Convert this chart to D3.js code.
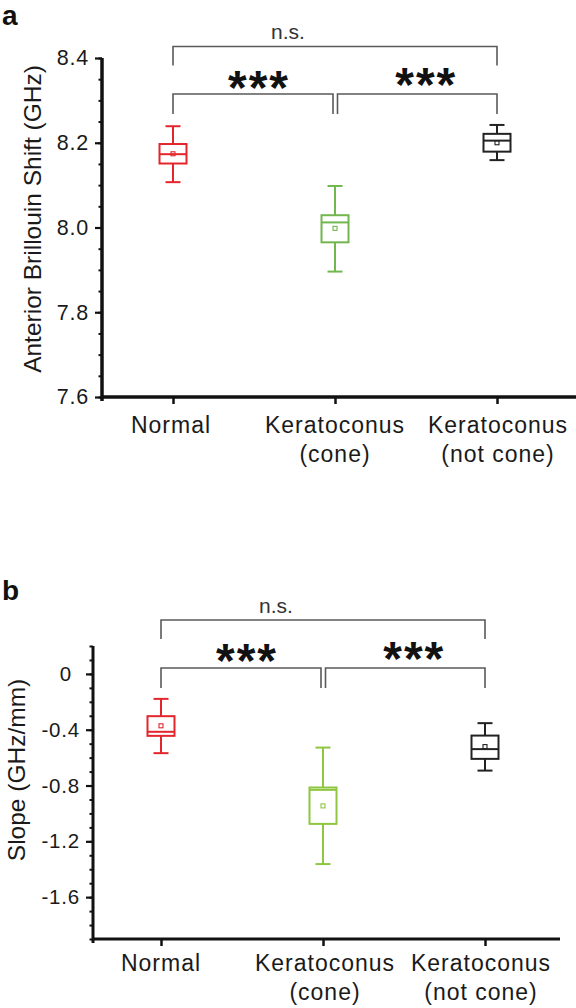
<!DOCTYPE html>
<html>
<head>
<meta charset="utf-8">
<script src="https://cdn.jsdelivr.net/npm/d3@7"></script>
<style>
  html, body { margin: 0; padding: 0; background: #fff; }
  svg { display: block; font-family: "Liberation Sans", Arial, Helvetica, sans-serif; }
</style>
</head>
<body>
<svg id="chart" width="576" height="1008"></svg>
<script>
// ---------- data ----------
const categories = ["Normal", "Keratoconus (cone)", "Keratoconus (not cone)"];
const categoryLines = [["Normal"], ["Keratoconus", "(cone)"], ["Keratoconus", "(not cone)"]];
const colorsA = ["#e3262d", "#72b64f", "#222222"];
const colorsB = ["#e3262d", "#8ec640", "#222222"];

// Panel a: anterior Brillouin shift (GHz)
const shiftWhiskerLow  = [8.107, 7.896, 8.159];
const shiftQ1          = [8.151, 7.965, 8.179];
const shiftMedian      = [8.173, 8.012, 8.205];
const shiftQ3          = [8.197, 8.029, 8.221];
const shiftWhiskerHigh = [8.239, 8.098, 8.242];
const shiftMean        = [8.174, 7.998, 8.200];
const shiftTicks = [7.6, 7.8, 8.0, 8.2, 8.4];
const shiftTickLabels = ["7.6", "7.8", "8.0", "8.2", "8.4"];

// Panel b: slope (GHz/mm)
const slopeWhiskerLow  = [-0.568, -1.363, -0.693];
const slopeQ1          = [-0.444, -1.075, -0.609];
const slopeMedian      = [-0.415, -0.831, -0.539];
const slopeQ3          = [-0.303, -0.814, -0.442];
const slopeWhiskerHigh = [-0.179, -0.528, -0.353];
const slopeMean        = [-0.372, -0.946, -0.521];
const slopeTicks = [-1.6, -1.2, -0.8, -0.4, 0];
const slopeTickLabels = ["-1.6", "-1.2", "-0.8", "-0.4", "0"];

// significance comparisons [from, to, label]
const comparisons = [[0, 2, "n.s."], [0, 1, "***"], [1, 2, "***"]];

// ---------- drawing ----------
const svg = d3.select("#chart");

function panel(cfg) {
  const g = svg.append("g");
  const x = d3.scalePoint().domain(categories).range(cfg.xRange);
  const y = d3.scaleLinear().domain(cfg.yDomain).range(cfg.yRange);

  // minor ticks
  const minorVals = d3.range(Math.round((cfg.yDomain[1] - cfg.yDomain[0]) / cfg.minorStep) + 1)
    .map(i => +(cfg.yDomain[0] + i * cfg.minorStep).toFixed(3));
  g.append("g").attr("transform", `translate(${cfg.axisX},0)`)
    .call(d3.axisLeft(y).tickValues(minorVals).tickSize(3.5).tickFormat(""))
    .call(a => a.select(".domain").remove())
    .call(a => a.selectAll("line").attr("stroke", "#111").attr("stroke-width", 2));

  // major ticks + labels
  const yAx = g.append("g").attr("transform", `translate(${cfg.axisX},0)`)
    .call(d3.axisLeft(y).tickValues(cfg.ticks).tickSize(7).tickPadding(6)
      .tickFormat((d, i) => cfg.tickLabels[i]))
    .call(a => a.select(".domain").remove());
  yAx.selectAll("line").attr("stroke", "#111").attr("stroke-width", 2.2);
  yAx.selectAll("text").attr("font-size", cfg.tickFont).attr("fill", "#1a1a1a")
    .attr("letter-spacing", "0.8px").attr("font-family", "Liberation Sans, Arial, sans-serif");
  if (cfg.zeroShift) yAx.selectAll("text").filter(d => d === 0).attr("dx", cfg.zeroShift);

  // axis lines
  const yBottom = y(cfg.yDomain[0]);
  g.append("line").attr("x1", cfg.axisX).attr("x2", cfg.axisX)
    .attr("y1", y(cfg.yDomain[1])).attr("y2", yBottom + 4)
    .attr("stroke", "#111").attr("stroke-width", cfg.axisWidth);
  g.append("line").attr("x1", cfg.axisX - 1).attr("x2", cfg.xAxisEnd)
    .attr("y1", yBottom).attr("y2", yBottom)
    .attr("stroke", "#111").attr("stroke-width", cfg.axisWidth);

  // x ticks
  const xAx = g.append("g").attr("transform", `translate(0,${yBottom})`)
    .call(d3.axisBottom(x).tickSize(7).tickFormat(""))
    .call(a => a.select(".domain").remove());
  xAx.selectAll("line").attr("stroke", "#111").attr("stroke-width", 2.5);

  // category labels
  categories.forEach((c, i) => {
    const t = g.append("text").attr("x", x(c) + cfg.labelDx[i]).attr("y", cfg.labelY)
      .attr("text-anchor", "middle").attr("font-size", 23).attr("letter-spacing", "1px")
      .attr("fill", "#1a1a1a");
    categoryLines[i].forEach((ln, j) => {
      t.append("tspan").attr("x", x(c) + cfg.labelDx[i]).attr("dy", j === 0 ? 0 : 29).text(ln);
    });
  });

  // y label
  g.append("text").attr("transform", `translate(${cfg.yLabelX},${cfg.yLabelY}) rotate(-90)`)
    .attr("text-anchor", "middle").attr("font-size", 24.5).attr("fill", "#1a1a1a")
    .text(cfg.yLabel);

  // panel letter
  g.append("text").attr("x", 2).attr("y", cfg.letterY).attr("font-size", 28)
    .attr("font-weight", "bold").attr("fill", "#111").text(cfg.letter);

  // boxes
  const bw = 27, cw = 15;
  categories.forEach((c, i) => {
    const cx = x(c), col = cfg.colors[i];
    const bg = g.append("g").attr("stroke", col).attr("fill", "none").attr("stroke-width", 2);
    bg.append("line").attr("x1", cx).attr("x2", cx).attr("y1", y(cfg.wHigh[i])).attr("y2", y(cfg.q3[i]));
    bg.append("line").attr("x1", cx).attr("x2", cx).attr("y1", y(cfg.q1[i])).attr("y2", y(cfg.wLow[i]));
    bg.append("line").attr("x1", cx - cw / 2).attr("x2", cx + cw / 2).attr("y1", y(cfg.wHigh[i])).attr("y2", y(cfg.wHigh[i]));
    bg.append("line").attr("x1", cx - cw / 2).attr("x2", cx + cw / 2).attr("y1", y(cfg.wLow[i])).attr("y2", y(cfg.wLow[i]));
    bg.append("rect").attr("x", cx - bw / 2).attr("width", bw)
      .attr("y", y(cfg.q3[i])).attr("height", y(cfg.q1[i]) - y(cfg.q3[i]));
    bg.append("line").attr("x1", cx - bw / 2).attr("x2", cx + bw / 2).attr("y1", y(cfg.med[i])).attr("y2", y(cfg.med[i]));
    bg.append("rect").attr("x", cx - 2).attr("y", y(cfg.mean[i]) - 2).attr("width", 4).attr("height", 4)
      .attr("stroke-width", 1.1);
  });

  // significance brackets
  comparisons.forEach(([a, b, lab], k) => {
    const outer = k === 0;
    const top = outer ? cfg.outerY : cfg.innerY;
    const drop = outer ? cfg.outerDrop : cfg.innerDrop;
    let x1 = x(categories[a]), x2 = x(categories[b]);
    if (!outer && a === 1) x1 += 2.5;
    if (!outer && b === 1) x2 -= 2;
    g.append("path").attr("d", `M${x1},${top + drop}V${top}H${x2}V${top + drop}`)
      .attr("fill", "none").attr("stroke", "#5a5a5a").attr("stroke-width", 1.6);
    if (outer) {
      g.append("text").attr("x", (x1 + x2) / 2 - 47).attr("y", top - 7.5)
        .attr("text-anchor", "middle").attr("font-size", 21).attr("fill", "#333").text(lab);
    } else {
      g.append("text").attr("x", (x1 + x2) / 2 + (a === 0 ? 6 : 9)).attr("y", cfg.starY[a])
        .attr("text-anchor", "middle").attr("font-size", 48).attr("font-weight", "bold")
        .attr("letter-spacing", "2px").attr("fill", "#111").text(lab);
    }
  });
}

panel({
  letter: "a", letterY: 25,
  xRange: [173, 497], axisX: 102, xAxisEnd: 576,
  yDomain: [7.6, 8.4], yRange: [397, 58], minorStep: 0.05,
  ticks: shiftTicks, tickLabels: shiftTickLabels, tickFont: 21.5,
  axisWidth: 3.5,
  labelY: 433, labelDx: [-2, 0, 1],
  yLabel: "Anterior Brillouin Shift (GHz)", yLabelX: 41, yLabelY: 219,
  colors: colorsA,
  wLow: shiftWhiskerLow, q1: shiftQ1, med: shiftMedian, q3: shiftQ3, wHigh: shiftWhiskerHigh, mean: shiftMean,
  outerY: 46.5, outerDrop: 19, innerY: 94, innerDrop: 20, starY: [104, 101]
});

panel({
  letter: "b", letterY: 600,
  xRange: [161, 485], axisX: 93, xAxisEnd: 560,
  yDomain: [-1.9, 0.2], yRange: [939, 646], minorStep: 0.1,
  ticks: slopeTicks, tickLabels: slopeTickLabels, tickFont: 20.5, zeroShift: -8,
  axisWidth: 3,
  labelY: 971, labelDx: [0, 2, -4],
  yLabel: "Slope (GHz/mm)", yLabelX: 25, yLabelY: 770,
  colors: colorsB,
  wLow: slopeWhiskerLow, q1: slopeQ1, med: slopeMedian, q3: slopeQ3, wHigh: slopeWhiskerHigh, mean: slopeMean,
  outerY: 620, outerDrop: 19, innerY: 668, innerDrop: 20, starY: [677, 675]
});
</script>
</body>
</html>
